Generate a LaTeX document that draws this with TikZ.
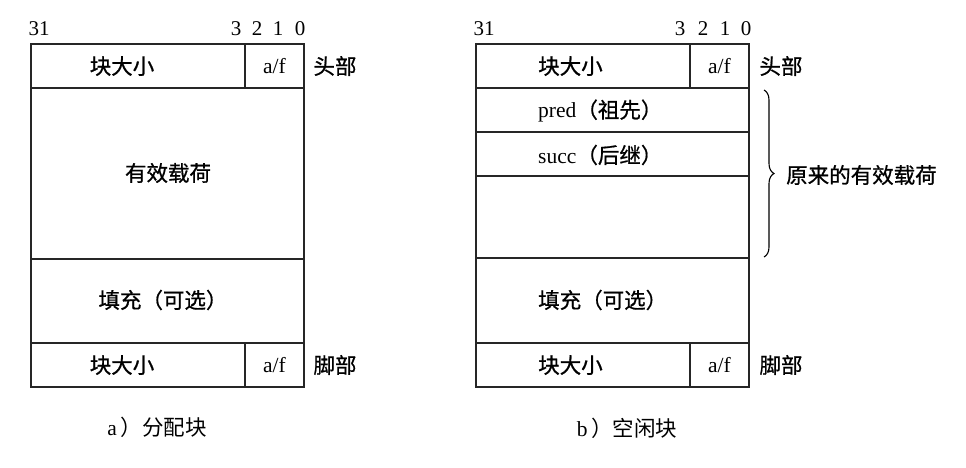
\documentclass[tikz,border=0pt]{standalone}
\usepackage{fontspec}
\setmainfont{Liberation Serif}
\newfontfamily\cjk[FakeBold=0.8]{Noto Sans CJK SC}
\newfontfamily\cjklight{Noto Sans CJK SC}
\usetikzlibrary{decorations.pathreplacing}
\newcommand{\zh}[1]{{\cjk #1}}
\newcommand{\zhl}[1]{{\cjklight #1}}
\tikzset{
  frame/.style={draw=black!85, line width=1.1pt},
  txt/.style={inner sep=0pt, font=\fontsize{21.5}{25}\selectfont},
  bit/.style={inner sep=0pt, font=\fontsize{21}{25}\selectfont},
}
\begin{document}
\begin{tikzpicture}[x=1pt,y=-1pt]
\useasboundingbox[fill=white] (0,0) rectangle (966,467);
% ---------- left block (allocated) ----------
\draw[frame] (31,44) rectangle (304,387);
\draw[frame] (31,88) -- (304,88);
\draw[frame] (31,259) -- (304,259);
\draw[frame] (31,343) -- (304,343);
\draw[frame] (245,44) -- (245,88);
\draw[frame] (245,343) -- (245,387);
\node[bit] (la31) at (39,29) {31};
\node[bit] (la3) at (236,29) {3};
\node[bit] (la2) at (257,29) {2};
\node[bit] (la1) at (278,29) {1};
\node[bit] (la0) at (300,29) {0};
\node[txt] (lhsize) at (122,66) {\zh{块大小}};
\node[txt] (lhaf) at (274.5,66) {a/f};
\node[txt] (lhlabel) at (335,66) {\zh{头部}};
\node[txt] (lpay) at (168,173) {\zh{有效载荷}};
\node[txt] (lpad) at (163,300) {\zh{填充（可选）}};
\node[txt] (lfsize) at (122,365) {\zh{块大小}};
\node[txt] (lfaf) at (274.5,365) {a/f};
\node[txt] (lflabel) at (335,365) {\zh{脚部}};
\node[txt] (lcap) at (157,427) {a\,\zhl{）分配块}};
% ---------- right block (free) ----------
\draw[frame] (476,44) rectangle (749,387);
\draw[frame] (476,88) -- (749,88);
\draw[frame] (476,132) -- (749,132);
\draw[frame] (476,176) -- (749,176);
\draw[frame] (476,258) -- (749,258);
\draw[frame] (476,343) -- (749,343);
\draw[frame] (690,44) -- (690,88);
\draw[frame] (690,343) -- (690,387);
\node[bit] (rb31) at (484,29) {31};
\node[bit] (rb3) at (680,29) {3};
\node[bit] (rb2) at (703,29) {2};
\node[bit] (rb1) at (725,29) {1};
\node[bit] (rb0) at (746,29) {0};
\node[txt, anchor=west] (rhsize) at (538,66) {\zh{块大小}};
\node[txt] (rhaf) at (719.5,66) {a/f};
\node[txt] (rhlabel) at (781,66) {\zh{头部}};
\node[txt, anchor=west] (rpred) at (538,111) {pred\zh{（祖先）}};
\node[txt, anchor=west] (rsucc) at (538,155) {succ\zh{（后继）}};
\node[txt, anchor=west] (rpad) at (538,300) {\zh{填充（可选）}};
\node[txt, anchor=west] (rfsize) at (538,365) {\zh{块大小}};
\node[txt] (rfaf) at (719.5,365) {a/f};
\node[txt] (rflabel) at (781,365) {\zh{脚部}};
\coordinate (btop) at (764,90);
\coordinate (bbot) at (764,257);
\draw[line width=1.1pt, decorate, decoration={brace, amplitude=10pt}] (btop) -- (bbot);
\node[txt, anchor=west] (rorig) at (786,175) {\zh{原来的有效载荷}};
\node[txt] (rcap) at (627,428) {b\,\zhl{）空闲块}};
\end{tikzpicture}
\end{document}
